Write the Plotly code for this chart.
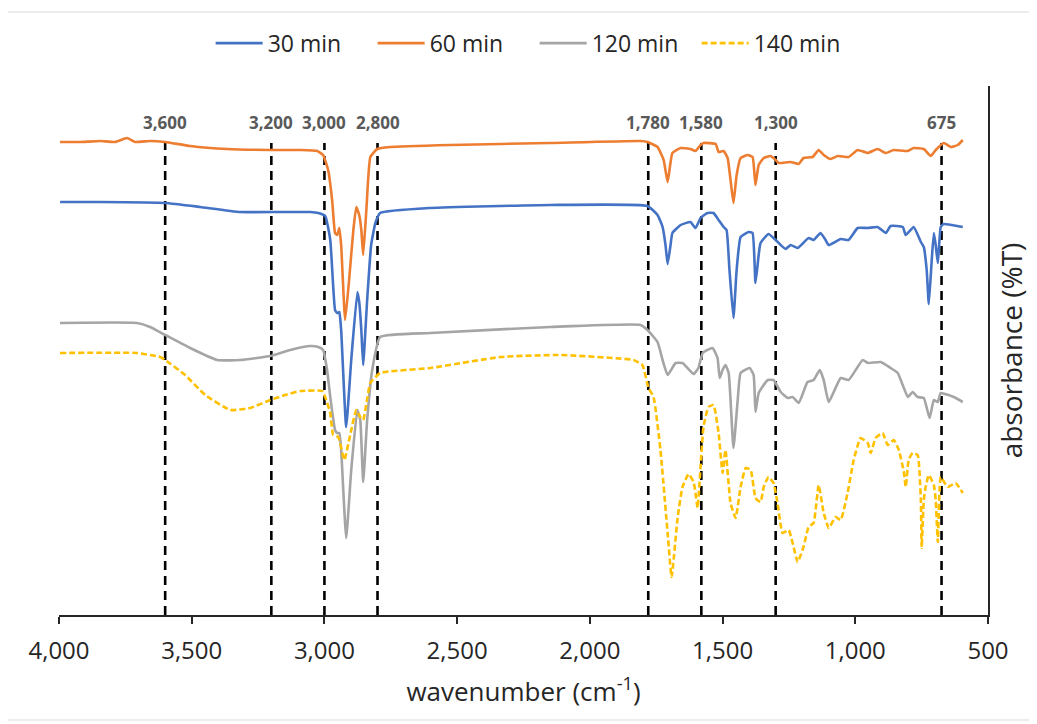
import plotly.graph_objects as go

# ---------------- data ----------------
# arbitrary absorbance/transmittance units (no y tick labels in the original)
wn_60 = [3996, 3921, 3845, 3789, 3744, 3713, 3657, 3600, 3506, 3367, 3204, 3091, 3027, 3005,
         2986, 2971, 2960, 2952, 2944, 2937, 2922, 2907, 2891, 2880, 2869, 2861, 2854, 2842,
         2827, 2801, 2752, 2526, 2149, 1809, 1783, 1745, 1722, 1707, 1689, 1658, 1621, 1602,
         1583, 1572, 1526, 1515, 1496, 1481, 1470, 1459, 1447, 1432, 1406, 1387, 1376, 1364,
         1345, 1319, 1300, 1289, 1244, 1213, 1195, 1161, 1138, 1119, 1093, 1066, 1025, 991,
         953, 916, 885, 855, 802, 780, 742, 716, 697, 667, 640, 614, 595]
val_60 = [473, 473, 474, 473, 477, 473, 474, 473, 469, 466, 465, 465, 464, 460,
          445, 415, 382, 380, 387, 370, 295, 335, 385, 408, 400, 385, 360, 405,
          458, 466, 468, 470, 472, 474, 473, 468, 455, 433, 462, 467, 466, 464,
          470, 472, 471, 463, 464, 457, 435, 412, 440, 457, 460, 458, 430, 450,
          457, 459, 455, 452, 453, 451, 457, 458, 465, 460, 456, 459, 458, 465,
          462, 466, 462, 465, 464, 467, 466, 459, 465, 472, 468, 470, 475]

wn_30 = [3996, 3845, 3600, 3468, 3318, 3167, 3054, 3023, 2997, 2978, 2960, 2952, 2944, 2937,
         2918, 2899, 2876, 2869, 2861, 2854, 2839, 2824, 2808, 2790, 2601, 2149, 1783, 1745,
         1726, 1715, 1707, 1696, 1689, 1658, 1621, 1602, 1583, 1557, 1534, 1515, 1496, 1485,
         1474, 1459, 1447, 1432, 1402, 1387, 1376, 1364, 1357, 1327, 1300, 1281, 1262, 1244,
         1217, 1176, 1157, 1131, 1112, 1100, 1055, 1025, 991, 953, 916, 885, 867, 821, 810,
         780, 753, 742, 731, 723, 712, 704, 697, 689, 678, 667, 595]
val_30 = [413, 413, 412, 408, 403, 403, 403, 402, 399, 375, 305, 302, 303, 285,
          188, 255, 323, 313, 285, 250, 315, 370, 392, 402, 407, 410, 409, 400,
          388, 370, 351, 370, 382, 390, 393, 387, 397, 402, 402, 395, 388, 385,
          345, 297, 345, 378, 383, 382, 332, 360, 372, 381, 375, 370, 366, 370,
          367, 377, 375, 382, 375, 370, 376, 375, 387, 387, 388, 382, 389, 388, 380,
          388, 373, 368, 345, 311, 355, 382, 370, 352, 388, 391, 388]

wn_120 = [3996, 3706, 3657, 3600, 3506, 3404, 3318, 3204, 3129, 3054, 3023, 3005, 2990, 2978,
          2960, 2952, 2944, 2937, 2918, 2899, 2876, 2865, 2854, 2839, 2820, 2790, 2601, 2149,
          1809, 1783, 1745, 1726, 1707, 1677, 1651, 1609, 1591, 1575, 1538, 1519, 1511, 1500,
          1489, 1477, 1459, 1443, 1432, 1398, 1383, 1376, 1364, 1330, 1308, 1281, 1255, 1236,
          1213, 1180, 1157, 1134, 1119, 1100, 1055, 1025, 972, 953, 904, 867, 840, 802, 784,
          765, 742, 720, 704, 689, 678, 629, 595]
val_120 = [292, 292, 288, 280, 267, 255, 255, 259, 265, 269, 268, 265, 245, 218,
           185, 182, 182, 165, 77, 145, 205, 195, 133, 195, 245, 278, 282, 288,
           290, 285, 273, 255, 240, 252, 252, 241, 247, 262, 267, 257, 237, 245,
           250, 242, 167, 215, 242, 247, 240, 203, 222, 235, 235, 223, 217, 218,
           212, 233, 235, 245, 235, 213, 237, 235, 255, 252, 253, 247, 242, 218, 223,
           218, 217, 197, 215, 213, 222, 218, 213]

wn_140 = [3996, 3706, 3619, 3600, 3525, 3449, 3355, 3280, 3204, 3148, 3091, 3008, 2997, 2978,
          2967, 2948, 2925, 2903, 2880, 2865, 2854, 2827, 2790, 2601, 2337, 2111, 1836, 1802,
          1779, 1760, 1734, 1707, 1692, 1669, 1651, 1628, 1609, 1602, 1594, 1583, 1572, 1553,
          1534, 1515, 1500, 1489, 1470, 1451, 1432, 1413, 1394, 1376, 1357, 1345, 1327, 1308,
          1293, 1274, 1251, 1236, 1217, 1195, 1176, 1157, 1138, 1119, 1100, 1074, 1055, 1029,
          1006, 980, 953, 942, 923, 897, 878, 855, 836, 817, 810, 799, 784, 765, 753, 750,
          742, 735, 723, 704, 697, 689, 678, 652, 622, 595]
val_140 = [262, 262, 258, 255, 240, 220, 205, 207, 215, 220, 224, 224, 218, 202,
           180, 178, 155, 180, 205, 198, 195, 232, 242, 247, 258, 260, 255, 250,
           227, 218, 165, 82, 38, 98, 128, 141, 133, 122, 107, 148, 188, 208,
           210, 182, 142, 165, 112, 97, 128, 147, 145, 117, 113, 128, 138, 132,
           112, 82, 85, 72, 53, 68, 88, 92, 130, 102, 87, 98, 95, 122,
           155, 177, 172, 162, 177, 182, 170, 175, 165, 143, 128, 155, 162, 160, 115, 67,
           115, 128, 140, 130, 115, 73, 138, 128, 132, 122]

series_names = ["30 min", "60 min", "120 min", "140 min"]
band_positions = [3600, 3200, 3000, 2800, 1780, 1580, 1300, 675]
x_ticks = [4000, 3500, 3000, 2500, 2000, 1500, 1000, 500]

# ---------------- styling ----------------
FONT = "Open Sans"
colors = {"30 min": "#4472C4", "60 min": "#ED7D31", "120 min": "#A5A5A5", "140 min": "#FFC000"}
Y_MAX = 529
BAND_TOP = 472
LABEL_Y = 493
PAGE_OFFSET = 8  # default body margin of the html page

fig = go.Figure()

# dashed marker lines for characteristic bands
for b in band_positions:
    fig.add_trace(go.Scatter(x=[b, b], y=[0, BAND_TOP], mode="lines",
                             line=dict(color="black", width=2.6, dash="9px,6px"),
                             showlegend=False, hoverinfo="skip"))

data = {
    "30 min": (wn_30, val_30),
    "60 min": (wn_60, val_60),
    "120 min": (wn_120, val_120),
    "140 min": (wn_140, val_140),
}
for name in series_names:
    xs, ys = data[name]
    fig.add_trace(go.Scatter(
        x=xs, y=ys, mode="lines", name=name,
        line=dict(color=colors[name], width=2.6,
                  dash="6px,3px" if name == "140 min" else "solid", shape="spline", smoothing=0.4),
    ))

for b in band_positions:
    fig.add_annotation(x=b, y=LABEL_Y, xref="x", yref="y", text=f"{b:,}", showarrow=False,
                       font=dict(family=FONT, size=17, color="#595959", weight="bold"),
                       xanchor="center", yanchor="middle")

# chart area border
fig.add_shape(type="rect", xref="paper", yref="paper",
              x0=(4 - 59) / 929, x1=(1033 - 59) / 929,
              y0=(615 - 720) / 529, y1=(615 - 12) / 529,
              line=dict(color="#D9D9D9", width=1), layer="below")

fig.update_layout(
    width=1037, height=724,
    margin=dict(l=59 - PAGE_OFFSET, r=49 + PAGE_OFFSET, t=86 - PAGE_OFFSET, b=109 + PAGE_OFFSET,
                autoexpand=False),
    paper_bgcolor="white", plot_bgcolor="white",
    font=dict(family=FONT, color="#262626"),
    showlegend=True,
    legend=dict(orientation="h", x=0.512, xanchor="center", y=1.081, yanchor="middle",
                font=dict(family=FONT, size=23, color="#262626"),
                itemwidth=47, entrywidth=100, traceorder="normal"),
    xaxis=dict(range=[4000, 500], autorange=False, tickmode="array", tickvals=x_ticks,
               tickformat=",", showgrid=False, zeroline=False,
               showline=True, linecolor="#262626", linewidth=1.5,
               ticks="outside", ticklen=7, tickcolor="#262626", tickwidth=1.5,
               ticklabelstandoff=6,
               tickfont=dict(family=FONT, size=24, color="#262626"),
               title=dict(text="wavenumber (cm<sup>-1</sup>)",
                          font=dict(family=FONT, size=26, color="#262626"), standoff=18)),
    yaxis=dict(range=[0, Y_MAX], autorange=False, side="right", showgrid=False, zeroline=False,
               showline=True, linecolor="#262626", linewidth=1.5,
               showticklabels=False, ticks="",
               title=dict(text="absorbance (%T)",
                          font=dict(family=FONT, size=28, color="#262626"), standoff=14)),
)

fig.write_html("out.html")
